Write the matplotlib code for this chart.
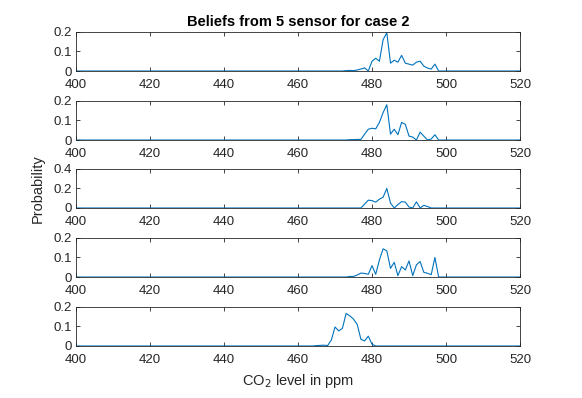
import matplotlib
matplotlib.use("Agg")
import matplotlib.pyplot as plt
import numpy as np

plt.rcParams['font.family'] = ['Liberation Sans', 'DejaVu Sans']

# CO2 grid (ppm)
co2 = np.arange(400, 521)

# nonzero belief values per sensor: (start ppm, values at 1 ppm steps)
s1_start = 472
s1_vals = [0.0, 0.002, 0.003, 0.002, 0.005, 0.01, 0.016, 0.0, 0.05, 0.065,
           0.05, 0.16, 0.195, 0.04, 0.055, 0.045, 0.08, 0.04, 0.035, 0.03,
           0.045, 0.05, 0.025, 0.015, 0.01, 0.035, 0.0]
s2_start = 474
s2_vals = [0.002, 0.002, 0.003, 0.003, 0.03, 0.055, 0.06, 0.057, 0.09, 0.14,
           0.18, 0.03, 0.055, 0.027, 0.09, 0.08, 0.02, 0.015, 0.0, 0.04,
           0.02, 0.0, 0.005, 0.027, 0.0]
s3_start = 477
s3_vals = [0.0, 0.04, 0.08, 0.075, 0.06, 0.09, 0.11, 0.2, 0.05, 0.0,
           0.035, 0.065, 0.06, 0.01, 0.0, 0.063, 0.0, 0.027, 0.015, 0.0]
s4_start = 474
s4_vals = [0.003, 0.003, 0.01, 0.02, 0.018, 0.014, 0.058, 0.014, 0.087, 0.144,
           0.133, 0.044, 0.075, 0.007, 0.053, 0.036, 0.082, 0.007, 0.062, 0.079,
           0.024, 0.019, 0.012, 0.1, 0.0]
s5_start = 465
s5_vals = [0.002, 0.003, 0.004, 0.002, 0.03, 0.097, 0.077, 0.09, 0.166, 0.154,
           0.137, 0.11, 0.034, 0.026, 0.05, 0.009, 0.0]

sensors = [(s1_start, s1_vals), (s2_start, s2_vals), (s3_start, s3_vals),
           (s4_start, s4_vals), (s5_start, s5_vals)]
y_max = [0.2, 0.2, 0.4, 0.2, 0.2]

xticks = [400, 420, 440, 460, 480, 500, 520]

dark = '#262626'
fig = plt.figure(figsize=(5.82, 3.98), dpi=100)
bottoms = [0.8216, 0.6482, 0.4774, 0.304, 0.1307]

for i, (start, vals) in enumerate(sensors):
    belief = np.zeros(len(co2))
    idx = start - co2[0]
    belief[idx:idx + len(vals)] = vals
    ax = fig.add_axes([0.1306, bottoms[i], 0.7629, 0.0985])
    ax.plot(co2, belief, color='#0072BD', lw=0.8)
    ax.set_xlim(400, 520)
    ax.set_ylim(0, y_max[i])
    ax.set_xticks(xticks)
    ax.set_yticks([0, y_max[i] / 2, y_max[i]])
    ax.set_yticklabels(['0', f'{y_max[i] / 2:g}', f'{y_max[i]:g}'])
    ax.tick_params(direction='in', length=3, width=0.6, labelsize=9.5,
                   colors=dark, top=True, right=True)
    ax.tick_params(axis='x', pad=6)
    ax.tick_params(axis='y', pad=3)
    for sp in ax.spines.values():
        sp.set_color(dark)
        sp.set_linewidth(0.6)
    if i == 0:
        ax.set_title('Beliefs from 5 sensor for case 2', fontsize=10.5,
                     fontweight='bold', color='black', pad=4)
    if i == 2:
        ax.set_ylabel('Probability', fontsize=10.5, color=dark, labelpad=6)
    if i == 4:
        ax.set_xlabel('CO$_2$ level in ppm', fontsize=10.5, color=dark, labelpad=4)

fig.savefig('out.png', dpi=100)
